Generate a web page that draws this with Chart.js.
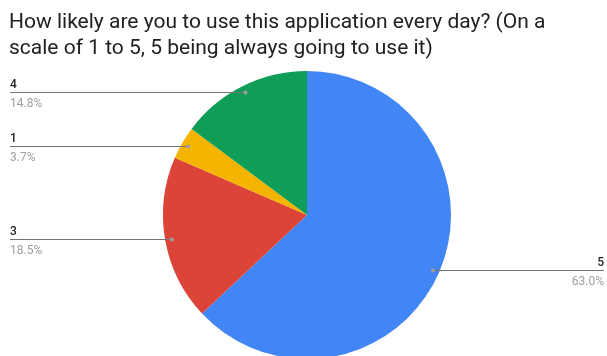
<!DOCTYPE html>
<html>
<head>
<meta charset="utf-8">
<script src="https://cdn.jsdelivr.net/npm/chart.js@4"></script>
<style>
  html, body { margin: 0; padding: 0; background: #fff; overflow: hidden; }
  #wrap { width: 607px; height: 356px; overflow: hidden; }
</style>
</head>
<body>
<div id="wrap"><canvas id="c" width="607" height="380"></canvas></div>
<script>
const titleLines = [
  'How likely are you to use this application every day? (On a',
  'scale of 1 to 5, 5 being always going to use it)'
];
const categories = ['5', '3', '1', '4'];
const percentages = [63.0, 18.5, 3.7, 14.8];
const sliceColors = ['#4285F4', '#DB4437', '#F4B400', '#0F9D58'];

// Title and leader-line labels drawn on top of the pie
const calloutPlugin = {
  id: 'callouts',
  afterDraw(chart) {
    const ctx = chart.ctx;
    ctx.save();
    ctx.fillStyle = '#212121';
    ctx.font = '21px Roboto';
    ctx.textAlign = 'left';
    ctx.textBaseline = 'alphabetic';
    ctx.fillText(titleLines[0], 9, 28);
    ctx.fillText(titleLines[1], 9, 54);

    const meta = chart.getDatasetMeta(0);
    const values = chart.data.datasets[0].data;
    meta.data.forEach((arc, i) => {
      const p = arc.getProps(['x', 'y', 'startAngle', 'endAngle', 'outerRadius'], true);
      const mid = (p.startAngle + p.endAngle) / 2;
      const r = p.outerRadius * 0.953;
      const dx = p.x + Math.cos(mid) * r;
      const dy = p.y + Math.sin(mid) * r;
      const left = dx < p.x;
      const ly = Math.round(dy) + 0.5;

      ctx.strokeStyle = '#757575';
      ctx.lineWidth = 1;
      ctx.beginPath();
      if (left) { ctx.moveTo(10, ly); ctx.lineTo(dx, ly); }
      else { ctx.moveTo(dx, ly); ctx.lineTo(604, ly); }
      ctx.stroke();

      ctx.fillStyle = '#9e9e9e';
      ctx.beginPath();
      ctx.arc(dx, ly, 2, 0, Math.PI * 2);
      ctx.fill();

      const tx = left ? 10 : 604;
      ctx.textAlign = left ? 'left' : 'right';
      ctx.font = '500 12px Roboto';
      ctx.fillStyle = '#222222';
      ctx.fillText(chart.data.labels[i], tx, ly - 5);
      ctx.font = '12px Roboto';
      ctx.fillStyle = '#9e9e9e';
      ctx.fillText(values[i].toFixed(1) + '%', tx, ly + 14);
    });
    ctx.restore();
  }
};

new Chart(document.getElementById('c'), {
  type: 'pie',
  data: {
    labels: categories,
    datasets: [{
      data: percentages,
      backgroundColor: sliceColors,
      borderWidth: 0
    }]
  },
  options: {
    responsive: false,
    animation: false,
    devicePixelRatio: 1,
    layout: { padding: { top: 71, bottom: 21, left: 7, right: 0 } },
    plugins: {
      legend: { display: false },
      tooltip: { enabled: false },
      title: { display: false }
    }
  },
  plugins: [calloutPlugin]
});
</script>
</body>
</html>
